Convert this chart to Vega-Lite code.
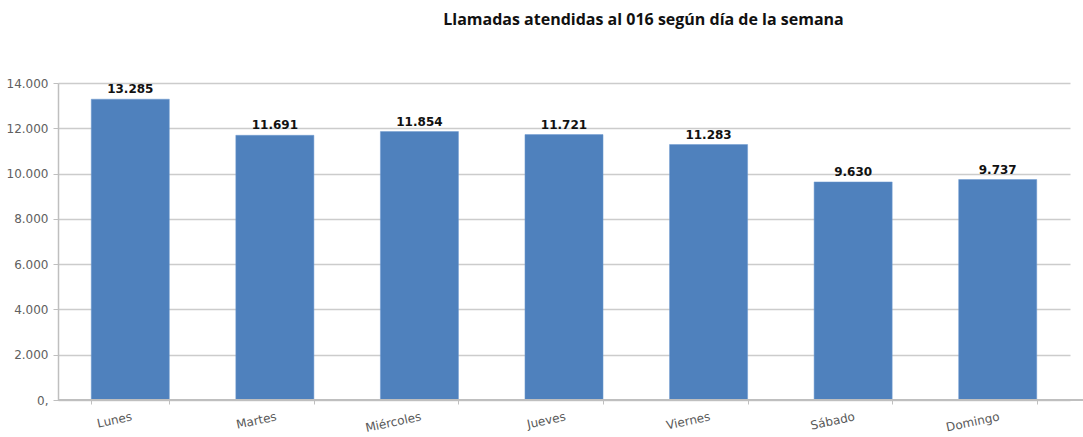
{
  "$schema": "https://vega.github.io/schema/vega-lite/v6.json",
  "autosize": "none",
  "width": 1025,
  "height": 317,
  "padding": {"left": 58, "top": 83, "right": 0, "bottom": 37},
  "background": "white",
  "config": {
    "locale": {"number": {"decimal": ",", "thousands": ".", "grouping": [3], "currency": ["", " €"]}},
    "view": {"stroke": null},
    "font": "DejaVu Sans"
  },
  "title": {
    "text": "Llamadas atendidas al 016 según día de la semana",
    "font": "Open Sans",
    "fontSize": 16,
    "fontWeight": "bold",
    "color": "#111111",
    "anchor": "middle",
    "dx": 73,
    "offset": 49
  },
  "data": {
    "values": [
      {"dia": "Lunes", "llamadas": 13285},
      {"dia": "Martes", "llamadas": 11691},
      {"dia": "Miércoles", "llamadas": 11854},
      {"dia": "Jueves", "llamadas": 11721},
      {"dia": "Viernes", "llamadas": 11283},
      {"dia": "Sábado", "llamadas": 9630},
      {"dia": "Domingo", "llamadas": 9737}
    ]
  },
  "encoding": {
    "x": {
      "field": "dia",
      "type": "nominal",
      "sort": null,
      "scale": {"range": [0, 1012], "paddingInner": 0.46, "paddingOuter": 0.23},
      "axis": {
        "title": null,
        "domain": false,
        "tickBand": "extent",
        "tickColor": "#bfbfbf",
        "tickSize": 4,
        "labelAngle": -12,
        "labelAlign": "right",
        "labelBaseline": "top",
        "labelPadding": 7,
        "labelFontSize": 12,
        "labelColor": "#595959",
        "grid": false
      }
    },
    "y": {
      "field": "llamadas",
      "type": "quantitative",
      "scale": {"domain": [0, 14000], "nice": false},
      "axis": {
        "title": null,
        "values": [0, 2000, 4000, 6000, 8000, 10000, 12000, 14000],
        "labelExpr": "datum.value == 0 ? '0,' : format(datum.value, ',')",
        "labelFontSize": 12,
        "labelColor": "#606060",
        "labelPadding": 5,
        "domainColor": "#bfbfbf",
        "domainWidth": 1.5,
        "tickColor": "#bfbfbf",
        "tickSize": 5,
        "gridColor": "#cccccc",
        "gridWidth": 1.5
      }
    }
  },
  "layer": [
    {
      "mark": {"type": "bar", "color": "#4f81bd", "stroke": "#6f9bd1", "strokeWidth": 0.5}
    },
    {
      "mark": {"type": "rule", "color": "#bfbfbf", "strokeWidth": 1.5},
      "encoding": {"x": null, "y": {"datum": 0, "type": "quantitative"}}
    },
    {
      "mark": {"type": "text", "baseline": "bottom", "dy": -3, "fontSize": 12, "fontWeight": "bold", "color": "#111111"},
      "encoding": {
        "text": {"field": "llamadas", "type": "quantitative", "format": ","}
      }
    }
  ]
}
